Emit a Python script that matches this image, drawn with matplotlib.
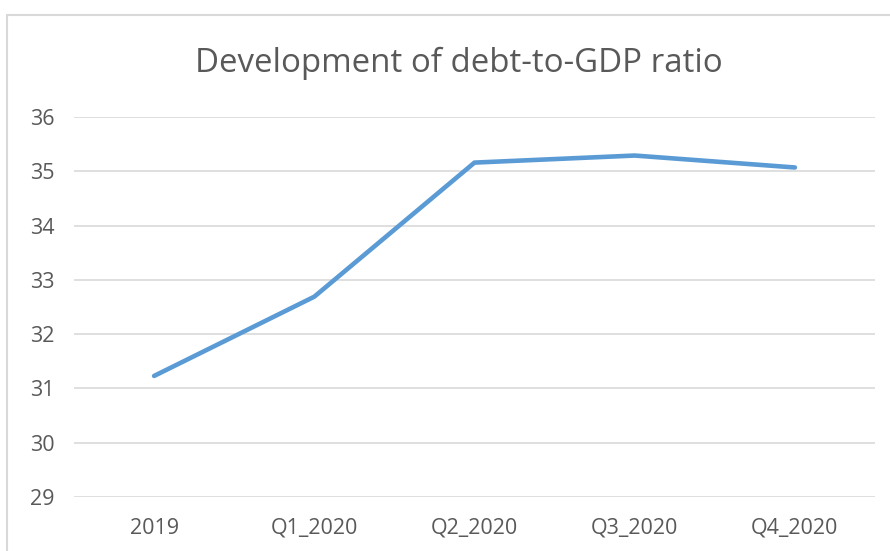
import matplotlib
matplotlib.use('Agg')
import matplotlib.pyplot as plt
from matplotlib.patches import Rectangle

categories = ['2019', 'Q1_2020', 'Q2_2020', 'Q3_2020', 'Q4_2020']
debt_ratio = [31.23, 32.69, 35.16, 35.29, 35.07]
y_ticks = [29, 30, 31, 32, 33, 34, 35, 36]

text_color = '#595959'
grid_color = '#D9D9D9'
line_color = '#5B9BD5'

plt.rcParams['font.family'] = ['Open Sans', 'DejaVu Sans']

fig = plt.figure(figsize=(8.9, 5.51), dpi=100)
ax = fig.add_axes([74 / 890, 54 / 551, 801 / 890, 380 / 551])

ax.plot(range(len(categories)), debt_ratio, color=line_color, linewidth=3.3,
        solid_capstyle='round', solid_joinstyle='round', zorder=3)

ax.set_xlim(-0.5, len(categories) - 0.5)
ax.set_ylim(29, 36)
ax.set_yticks(y_ticks)
ax.set_xticks(range(len(categories)))
ax.set_xticklabels(categories)
ax.grid(axis='y', color=grid_color, linewidth=1.2)
ax.set_axisbelow(True)
for side in ['top', 'right', 'left', 'bottom']:
    ax.spines[side].set_visible(False)
ax.tick_params(axis='both', length=0, labelsize=15.5, colors=text_color)
ax.tick_params(axis='x', pad=15)
ax.tick_params(axis='y', pad=14)

fig.text(459 / 890, 1 - 72 / 551, 'Development of debt-to-GDP ratio',
         ha='center', va='baseline', fontsize=23.8, color=text_color)

# chart border (cropped at right and bottom)
fig.patches.append(Rectangle((7 / 890, -0.05), 1.2, 1 - 15 / 551 + 0.05,
                             transform=fig.transFigure, fill=False,
                             edgecolor=grid_color, linewidth=1.5))

fig.savefig('out.png', dpi=100)
